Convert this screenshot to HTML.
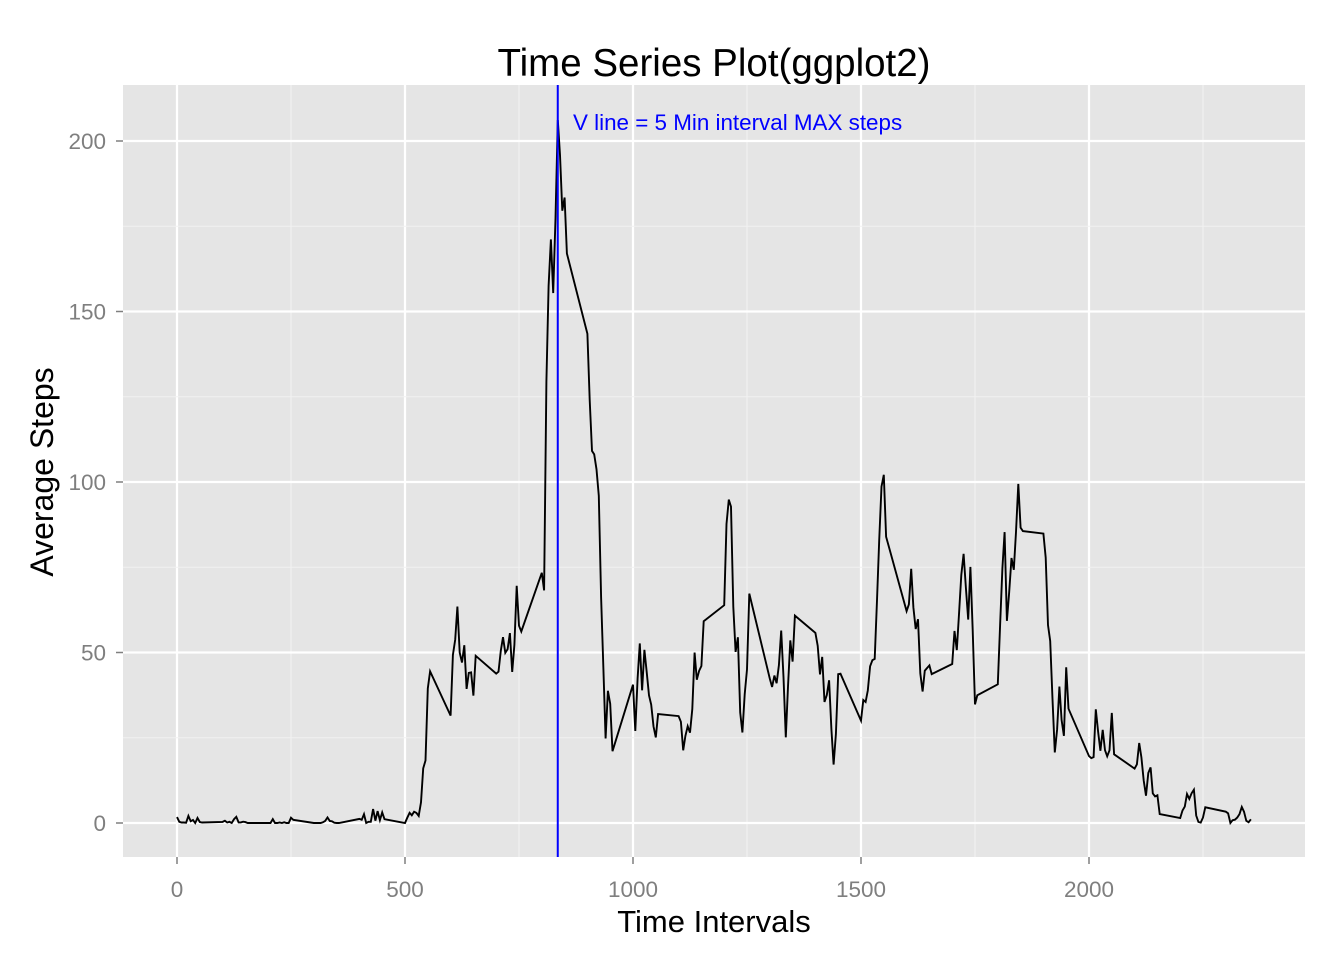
<!DOCTYPE html>
<html><head><meta charset="utf-8"><style>
body{margin:0;background:#fff;}
svg{display:block;font-family:"Liberation Sans",Arial,sans-serif;}
</style></head><body>
<svg id="chart" width="1344" height="960">
<rect x="0" y="0" width="1344" height="960" fill="#fff"/>
<rect x="123" y="85" width="1182" height="772" fill="#e5e5e5"/>
<g id="grid"></g><g id="ticks"></g>
<path id="series" fill="none" stroke="#000" stroke-width="1.9"/>
<line id="vline" stroke="#0000ff" stroke-width="2"/>
<text x="573" y="130" font-size="22.4" fill="#0000ff">V line = 5 Min interval MAX steps</text>
<text x="714" y="76" font-size="38.5" text-anchor="middle" fill="#000">Time Series Plot(ggplot2)</text>
<text x="714" y="932" font-size="31" text-anchor="middle" fill="#000">Time Intervals</text>
<text transform="translate(53,472) rotate(-90)" font-size="32" text-anchor="middle" fill="#000">Average Steps</text>
</svg>
<script>
const steps=[1.717,0.340,0.132,0.151,0.075,2.094,0.528,0.868,0,1.472,0.302,0.132,0.321,0.679,0.151,0.340,0,1.113,1.830,0.170,0.170,0.377,0.264,0,0,0,1.132,0,0,0.132,0,0.226,0,0,1.547,0.943,0,0,0,0,0.208,0.623,1.623,0.585,0.491,0.075,0,0,1.189,0.943,2.566,0,0.340,0.358,4.113,0.660,3.491,0.830,3.113,1.113,0,1.566,3.0,2.245,3.321,2.962,2.094,6.057,16.019,18.340,39.453,44.491,31.491,49.264,53.774,63.453,49.962,47.075,52.151,39.340,44.019,44.170,37.358,49.038,43.811,44.377,50.509,54.509,49.925,50.981,55.679,44.321,52.264,69.547,57.849,56.151,73.377,68.208,129.434,157.528,171.151,155.396,177.302,206.170,195.925,179.566,183.396,167.019,143.453,124.038,109.113,108.113,103.717,95.962,66.208,45.226,24.792,38.755,34.981,21.057,40.566,26.981,42.415,52.660,38.925,50.792,44.283,37.415,34.698,28.340,25.094,31.943,31.358,29.679,21.321,25.547,28.377,26.472,33.434,49.981,42.038,44.604,46.038,59.189,63.868,87.698,94.849,92.774,63.396,50.170,54.472,32.415,26.528,37.736,45.057,67.283,42.340,39.887,43.264,40.981,46.245,56.434,42.755,25.132,39.962,53.547,47.321,60.811,55.755,51.962,43.585,48.698,35.472,37.547,41.849,27.509,17.113,26.075,43.623,43.774,30.019,36.075,35.491,38.849,45.962,47.755,48.132,65.321,82.906,98.660,102.113,83.962,62.132,64.132,74.547,63.170,56.906,59.774,43.868,38.566,44.660,45.453,46.208,43.679,46.623,56.302,50.717,61.226,72.717,78.943,68.943,59.660,75.094,56.509,34.774,37.453,40.679,58.019,74.698,85.321,59.264,67.774,77.698,74.245,85.340,99.453,86.585,85.604,84.868,77.830,58.038,53.358,36.321,20.717,27.396,40.019,30.208,25.547,45.660,33.528,19.623,19.019,19.340,33.340,26.811,21.170,27.302,21.340,19.547,21.321,32.302,20.151,15.943,17.226,23.453,19.245,12.453,8.019,14.660,16.302,8.679,7.792,8.132,2.623,1.453,3.679,4.811,8.509,7.075,8.698,9.755,2.208,0.321,0.113,1.604,4.604,3.302,2.849,0,0.830,0.962,1.585,2.604,4.698,3.302,0.642,0.226,1.075];
const xTicks=[0,500,1000,1500,2000];
const yTicks=[0,50,100,150,200];
const maxInterval=835;
const X=v=>177+v*0.456, Y=v=>823-v*3.41;
const NS='http://www.w3.org/2000/svg';
const g=document.getElementById('grid'),tk=document.getElementById('ticks');
function ln(p,x1,y1,x2,y2,c,w){const l=document.createElementNS(NS,'line');l.setAttribute('x1',x1);l.setAttribute('y1',y1);l.setAttribute('x2',x2);l.setAttribute('y2',y2);l.setAttribute('stroke',c);l.setAttribute('stroke-width',w);p.appendChild(l);return l;}
for(let i=0;i<xTicks.length;i++){const v=xTicks[i];
 if(X(v+250)<1305){
 const mn=ln(g,X(v+250),85,X(v+250),857,'#f2f2f2',1);
 
 }
 const gl=ln(g,X(v),85,X(v),857,'#fff',2.2);
 
 
 const t=ln(tk,X(v),857,X(v),864,'#7f7f7f',1.5);
 
 
 const tx=document.createElementNS(NS,'text');tx.setAttribute('x',X(v));tx.setAttribute('y',897);tx.setAttribute('font-size','22.5');tx.setAttribute('fill','#7f7f7f');tx.setAttribute('text-anchor','middle');tx.textContent=v;
 
 
 tk.appendChild(tx);}
for(let i=0;i<yTicks.length;i++){const v=yTicks[i];
 if(Y(v+25)>85){
 const mn=ln(g,123,Y(v+25),1305,Y(v+25),'#f2f2f2',1);
 
 }
 const gl=ln(g,123,Y(v),1305,Y(v),'#fff',2.2);
 
 
 const t=ln(tk,116,Y(v),123,Y(v),'#7f7f7f',1.5);
 
 
 const tx=document.createElementNS(NS,'text');tx.setAttribute('x',106);tx.setAttribute('y',Y(v)+8);tx.setAttribute('font-size','22.5');tx.setAttribute('fill','#7f7f7f');tx.setAttribute('text-anchor','end');tx.textContent=v;
 
 
 tk.appendChild(tx);}
let d='';
steps.forEach((s,i)=>{const iv=Math.floor(i/12)*100+(i%12)*5;d+=(i?'L':'M')+X(iv).toFixed(1)+','+Y(s).toFixed(1);});
document.getElementById('series').setAttribute('d',d);
const vl=document.getElementById('vline');
vl.setAttribute('x1',X(maxInterval));vl.setAttribute('x2',X(maxInterval));vl.setAttribute('y1',85);vl.setAttribute('y2',857);
</script>
</body></html>
